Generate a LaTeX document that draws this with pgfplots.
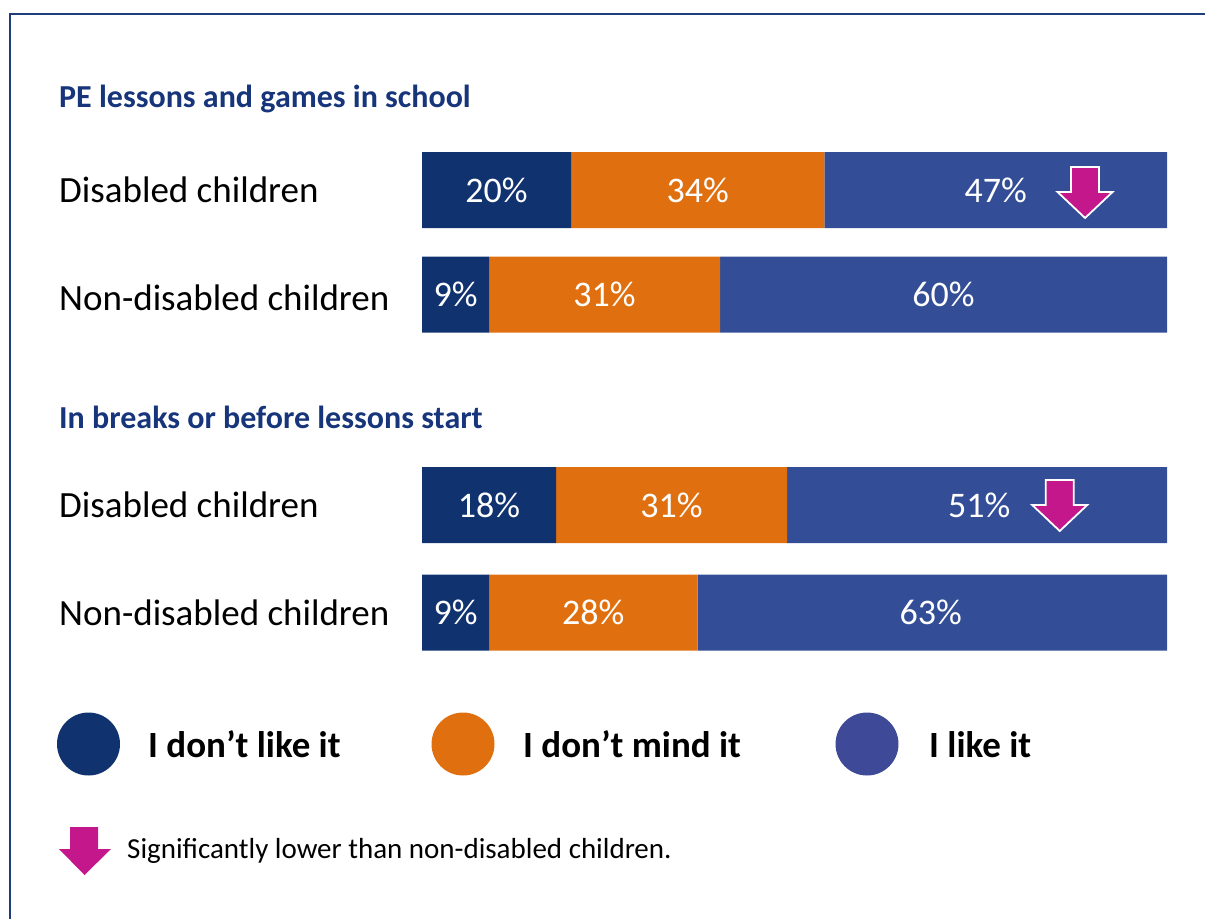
\documentclass[border=0pt]{standalone}
\usepackage{pgfplots}
\usepackage{pgfplotstable}
\pgfplotsset{compat=1.18}
\usepackage{fontspec}
\setmainfont{Carlito}
\definecolor{navy}{HTML}{10326F}
\definecolor{orng}{HTML}{E0700F}
\definecolor{blu}{HTML}{334E96}
\definecolor{legblu}{HTML}{3E4A97}
\definecolor{pink}{HTML}{C4178C}
\definecolor{titlec}{HTML}{17357A}
\definecolor{framec}{HTML}{1F3C7C}

\pgfplotstableread{
y dl dm li
-190 20 34 47
-294.5 9 31 60
-505 18 31 51
-612.5 9 28 63
}\data

\pgfplotsset{barframe/.style={
  scale only axis, width=745pt, height=520pt,
  xmin=0, xmax=100, ymin=-660, ymax=-140,
  at={(422pt,-660pt)}, anchor=south west,
  hide axis, bar width=76pt,
}}
\tikzset{sigarrow/.style={fill=pink, draw=white, line width=1.8pt, line join=miter}}

\begin{document}
\begin{tikzpicture}
\useasboundingbox (0pt,0pt) rectangle (1205pt,-919pt);
% frame
\draw[framec, line width=2.2pt] (10pt,-919pt) -- (10pt,-14pt) -- (1205pt,-14pt);

% titles
\node[anchor=base west, font=\fontsize{32}{38}\selectfont\bfseries, text=titlec, inner sep=0pt] at (59pt,-107pt) {PE lessons and games in school};
\node[anchor=base west, font=\fontsize{32}{38}\selectfont\bfseries, text=titlec, inner sep=0pt] at (59pt,-428pt) {In breaks or before lessons start};

% category labels
\foreach \yy/\lab in {202/Disabled children, 310/Non-disabled children, 517/Disabled children, 625/Non-disabled children}{
  \node[anchor=base west, font=\fontsize{37}{44}\selectfont, inner sep=0pt] at (59pt,-\yy pt) {\lab};
}

\begin{axis}[barframe, xbar stacked]
\addplot[fill=navy, draw=none] table[x=dl, y=y] {\data};
\addplot[fill=orng, draw=none] table[x=dm, y=y] {\data};
\addplot[fill=blu, draw=none] table[x=li, y=y] {\data};
\end{axis}

\begin{axis}[barframe, clip=false]
\addplot[draw=none, mark=none, point meta=explicit symbolic,
  nodes near coords={\pgfplotspointmeta\%},
  every node near coord/.style={anchor=center, text=white, font=\fontsize{36}{42}\selectfont, inner sep=0pt}]
coordinates {
(10,-190) [20] (37,-190) [34] (77,-190) [47]
(4.5,-294.5) [9] (24.5,-294.5) [31] (70,-294.5) [60]
(9,-505) [18] (33.5,-505) [31] (74.8,-505) [51]
(4.5,-612.5) [9] (23,-612.5) [28] (68.3,-612.5) [63]
};
% significance arrows
\draw[sigarrow, shift={(axis cs:89.0,-167)}]
  (-14pt,0pt) -- (14pt,0pt) -- (14pt,-25pt) -- (27.5pt,-25pt) -- (0pt,-51pt) -- (-27.5pt,-25pt) -- (-14pt,-25pt) -- cycle;
\draw[sigarrow, shift={(axis cs:85.6,-480)}]
  (-14pt,0pt) -- (14pt,0pt) -- (14pt,-25pt) -- (27.5pt,-25pt) -- (0pt,-51pt) -- (-27.5pt,-25pt) -- (-14pt,-25pt) -- cycle;
\end{axis}

% legend
\fill[navy] (88.5pt,-744pt) circle (31.5pt);
\fill[orng] (463pt,-744pt) circle (31.5pt);
\fill[legblu] (867pt,-744pt) circle (31.5pt);
\node[anchor=base west, font=\fontsize{37}{44}\selectfont\bfseries, inner sep=0pt] at (148pt,-757pt) {I don’t like it};
\node[anchor=base west, font=\fontsize{37}{44}\selectfont\bfseries, inner sep=0pt] at (523pt,-757pt) {I don’t mind it};
\node[anchor=base west, font=\fontsize{37}{44}\selectfont\bfseries, inner sep=0pt] at (929pt,-757pt) {I like it};

% footnote
\fill[pink] (70pt,-827pt) -- (98pt,-827pt) -- (98pt,-849pt) -- (111pt,-849pt) -- (84.5pt,-875pt) -- (59pt,-849pt) -- (70pt,-849pt) -- cycle;
\node[anchor=base west, font=\fontsize{29}{35}\selectfont, inner sep=0pt] at (127pt,-858pt) {Significantly lower than non-disabled children.};
\end{tikzpicture}
\end{document}
